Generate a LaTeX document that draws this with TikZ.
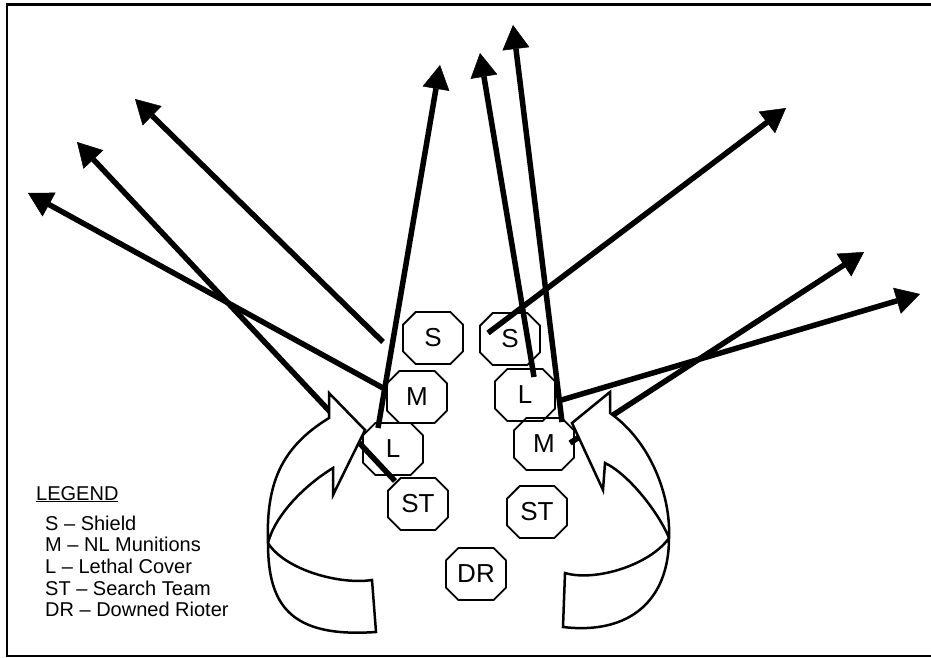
\documentclass[tikz,border=0pt]{standalone}
\usepackage{fontspec}
\setmainfont{Liberation Sans}
\usetikzlibrary{shapes.misc}
\usetikzlibrary{arrows.meta}

\begin{document}
\begin{tikzpicture}[x=1pt,y=-1pt,
    post/.style={chamfered rectangle,chamfered rectangle xsep=15pt,draw,line width=1.8pt,
                 minimum width=60pt,minimum height=52pt,inner sep=0pt,font=\fontsize{26}{26}\selectfont},
    fire/.style={line width=5.5pt,-{Triangle[length=24pt,width=27pt,line width=0.5pt]}},
    swing/.style={draw,fill=white,line width=2.5pt,line join=miter},
    key/.style={anchor=base west,inner sep=0pt,font=\fontsize{20}{20}\selectfont}]
   \useasboundingbox (0,0) rectangle (931,658);
   \draw[line width=2.5pt] (931,4.5) -- (7,4.5) -- (7,656) -- (931,656);

   % fields of fire
   \coordinate (m1) at (383,388); \coordinate (f1) at (28,193);
   \coordinate (m2) at (395,481); \coordinate (f2) at (77,142);
   \coordinate (m3) at (383,342); \coordinate (f3) at (135,99);
   \coordinate (m4) at (378,428); \coordinate (f4) at (440,65);
   \coordinate (m5) at (534,377); \coordinate (f5) at (480,53);
   \coordinate (m6) at (562,422); \coordinate (f6) at (513,25);
   \coordinate (m7) at (488,333); \coordinate (f7) at (786,108);
   \coordinate (m8) at (570,443); \coordinate (f8) at (864,252);
   \coordinate (m9) at (558,401); \coordinate (f9) at (920,294);
   \foreach \i in {1,...,9} {
      \draw[fire] (m\i) -- (f\i);
   }

   % left sweep
   \draw[swing] (329,393) -- (329,418)
      .. controls (280,448) and (266,485) .. (268,543)
      .. controls (268,605) and (290,638) .. (376,632) -- (372,580)
      .. controls (340,585) and (285,570) .. (268,543)
      .. controls (275,515) and (305,485) .. (333,468)
      -- (333,495) -- (365,430) -- cycle;
   % right sweep
   \draw[swing] (610,392) -- (610,413)
      .. controls (650,441) and (671,495) .. (669,538)
      .. controls (669,600) and (630,635) .. (563,627) -- (565,573)
      .. controls (595,582) and (650,565) .. (669,538)
      .. controls (660,515) and (630,475) .. (605,463)
      -- (603,490) -- (572,423) -- cycle;

   % team
   \node[post] (sl)  at (433,338) {S};
   \node[post] (ml)  at (417,397) {M};
   \node[post] (ll)  at (393,449) {L};
   \node[post] (stl) at (418,504) {ST};
   \node[post] (sr)  at (510,339) {S};
   \node[post] (lr)  at (525,395) {L};
   \node[post] (mr)  at (544,444) {M};
   \node[post] (str) at (537,512) {ST};
   \node[post] (dr)  at (476,574) {DR};

   % legend
   \node[key] (legend) at (36,500) {\underline{LEGEND}};
   \foreach \txt [count=\i] in {S – Shield,M – NL Munitions,L – Lethal Cover,ST – Search Team,DR – Downed Rioter} {
      \node[key] (key\i) at (45,{508.3+21.7*\i}) {\txt};
   }
\end{tikzpicture}
\end{document}
